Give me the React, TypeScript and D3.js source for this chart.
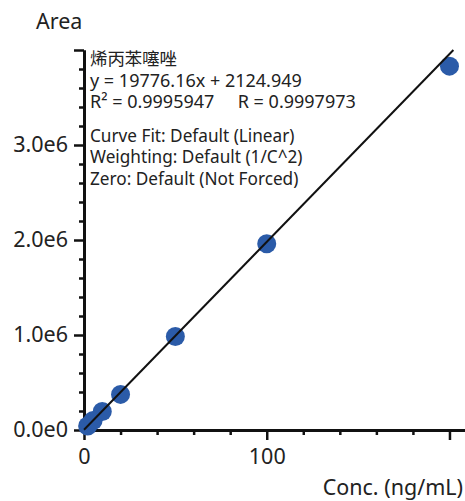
import React, { useRef, useEffect } from 'react';
import * as d3 from 'd3';

// calibration standards
const concs = [2, 5, 10, 20, 50, 100, 200];
const areas = [42000, 100000, 195000, 375000, 985000, 1960000, 3830000];

const slope = 19776.16;
const intercept = 2124.949;

const xMajor = [0, 100, 200];
const xLabels = ['0', '100', ''];
const yMajor = [0, 1e6, 2e6, 3e6, 4e6];
const yLabels = ['0.0e0', '1.0e6', '2.0e6', '3.0e6', ''];

const notes = [
  '烯丙苯噻唑',
  'y = 19776.16x + 2124.949',
  'R² = 0.9995947     R = 0.9997973',
  '',
  'Curve Fit: Default (Linear)',
  'Weighting: Default (1/C^2)',
  'Zero: Default (Not Forced)',
];
const noteSizes = [17.4, 18, 18, 0, 17.2, 17.2, 17.2];

const FONT = '"Noto Sans", "Noto Sans CJK SC", sans-serif';

function App() {
  const svgRef = useRef<SVGSVGElement>(null);

  useEffect(() => {
    const svg = d3.select(svgRef.current);
    svg.selectAll('*').remove();

    const x = d3.scaleLinear().domain([0, 208.5]).range([84, 465]);
    const y = d3.scaleLinear().domain([0, 4e6]).range([430, 50]);

    // minor ticks
    const xMinor = d3.range(0, 201, 20).filter(v => !xMajor.includes(v));
    const yMinor = d3.range(0, 4e6 + 1, 2e5).filter(v => !yMajor.includes(v));

    const styleAxis = (g: any, w: number) => {
      g.select('.domain').attr('stroke', '#111').attr('stroke-width', 3);
      g.selectAll('.tick line').attr('stroke', '#111').attr('stroke-width', w);
      g.selectAll('.tick text')
        .attr('font-family', FONT)
        .attr('font-size', 21.5)
        .attr('fill', '#222');
    };

    svg.append('g')
      .attr('transform', 'translate(0,430)')
      .call(d3.axisBottom(x).tickValues(xMinor).tickSize(5).tickSizeOuter(0).tickFormat(() => ''))
      .call(g => styleAxis(g, 2.5));

    svg.append('g')
      .attr('transform', 'translate(0,430)')
      .call(d3.axisBottom(x).tickValues(xMajor).tickSize(10).tickSizeOuter(0).tickPadding(9)
        .tickFormat((d, i) => xLabels[i]))
      .call(g => styleAxis(g, 2.5));

    svg.append('g')
      .attr('transform', 'translate(84,0)')
      .call(d3.axisLeft(y).tickValues(yMinor).tickSize(5).tickSizeOuter(0).tickFormat(() => ''))
      .call(g => styleAxis(g, 2.5));

    svg.append('g')
      .attr('transform', 'translate(84,0)')
      .call(d3.axisLeft(y).tickValues(yMajor).tickSize(10).tickSizeOuter(0).tickPadding(6)
        .tickFormat((d, i) => yLabels[i]))
      .call(g => styleAxis(g, 2.5));

    // points
    svg.append('g')
      .selectAll('circle')
      .data(concs)
      .join('circle')
      .attr('cx', d => x(d))
      .attr('cy', (d, i) => y(areas[i]))
      .attr('r', 9.5)
      .attr('fill', '#2b5ba8');

    // regression line, clipped at top of y domain
    const xEnd = (4e6 - intercept) / slope;
    const line = d3.line<number>().x(d => x(d)).y(d => y(slope * d + intercept));
    svg.append('path')
      .attr('d', line([0, xEnd]))
      .attr('fill', 'none')
      .attr('stroke', '#111')
      .attr('stroke-width', 2);

    // annotation
    const ann = svg.append('text')
      .attr('font-family', FONT)
      .attr('fill', '#222')
      .style('white-space', 'pre');
    const baselines = [65, 87, 108, 0, 142, 163, 185];
    notes.forEach((t, i) => {
      if (!t) return;
      ann.append('tspan')
        .attr('x', 90).attr('y', baselines[i])
        .attr('font-size', noteSizes[i])
        .text(t);
    });

    // axis titles
    svg.append('text')
      .attr('x', 36).attr('y', 29)
      .attr('font-family', FONT).attr('font-size', 21.5).attr('fill', '#222')
      .text('Area');
    svg.append('text')
      .attr('x', 463).attr('y', 495)
      .attr('text-anchor', 'end')
      .attr('font-family', FONT).attr('font-size', 21.5).attr('fill', '#222')
      .text('Conc. (ng/mL)');
  }, []);

  return (
    <svg ref={svgRef} width={465} height={501}
      style={{ position: 'absolute', left: 0, top: 0, background: '#fff' }} />
  );
}

export default App;
